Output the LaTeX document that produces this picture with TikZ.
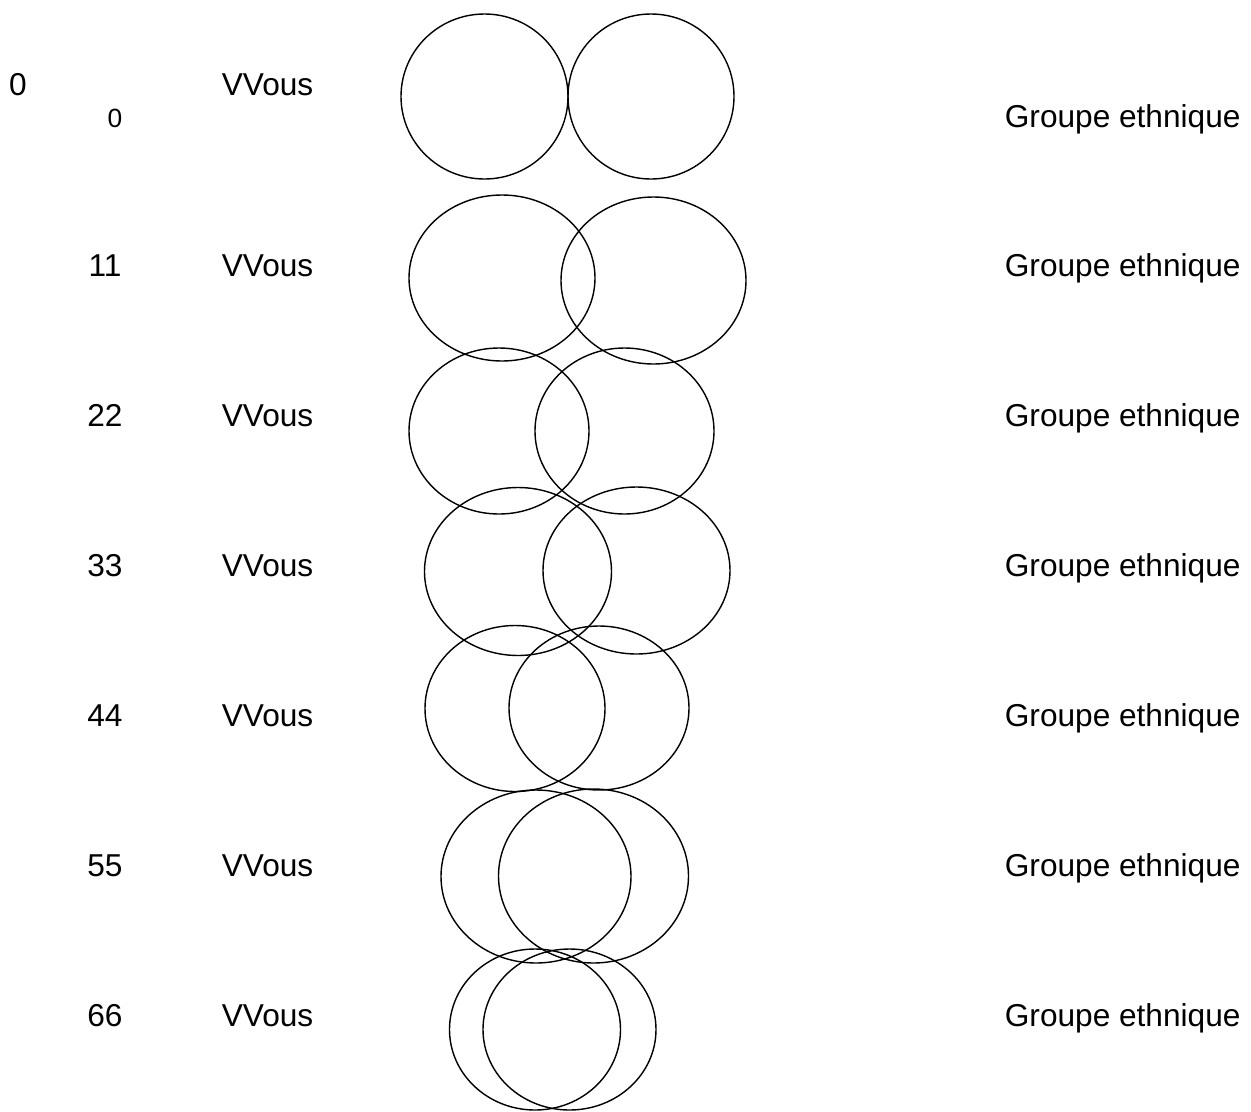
\documentclass[tikz,border=0pt]{standalone}
\usepackage{fontspec}
\setmainfont{Liberation Sans}
\usetikzlibrary{shapes.geometric}
\begin{document}
\begin{tikzpicture}[%
% common options for the texts:
lbl/.style = {rectangle, inner sep=0, anchor=base,
            font=\fontsize{18}{21}\selectfont},
% common options for the ellipses:
ring/.style = {ellipse, draw, line width=0.8pt, inner sep=0, anchor=center}]
\useasboundingbox (0,0) rectangle (25.02,-22.22);
\node[lbl] (N00) at (0.36,-1.90) {0};
\node[lbl,font=\fontsize{15}{17}\selectfont] (N0) at (2.30,-2.55) {0};
\node[lbl] (N1) at (2.10,-5.52) {11};
\node[lbl] (N2) at (2.10,-8.52) {22};
\node[lbl] (N3) at (2.10,-11.52) {33};
\node[lbl] (N4) at (2.10,-14.52) {44};
\node[lbl] (N5) at (2.10,-17.52) {55};
\node[lbl] (N6) at (2.10,-20.52) {66};
\node[lbl,anchor=base west] (V0) at (4.43,-1.90) {VVous};
\node[lbl,anchor=base west] (V1) at (4.43,-5.52) {VVous};
\node[lbl,anchor=base west] (V2) at (4.43,-8.52) {VVous};
\node[lbl,anchor=base west] (V3) at (4.43,-11.52) {VVous};
\node[lbl,anchor=base west] (V4) at (4.43,-14.52) {VVous};
\node[lbl,anchor=base west] (V5) at (4.43,-17.52) {VVous};
\node[lbl,anchor=base west] (V6) at (4.43,-20.52) {VVous};
\node[lbl,anchor=base west] (G0) at (20.09,-2.54) {Groupe ethnique};
\node[lbl,anchor=base west] (G1) at (20.09,-5.52) {Groupe ethnique};
\node[lbl,anchor=base west] (G2) at (20.09,-8.52) {Groupe ethnique};
\node[lbl,anchor=base west] (G3) at (20.09,-11.52) {Groupe ethnique};
\node[lbl,anchor=base west] (G4) at (20.09,-14.52) {Groupe ethnique};
\node[lbl,anchor=base west] (G5) at (20.09,-17.52) {Groupe ethnique};
\node[lbl,anchor=base west] (G6) at (20.09,-20.52) {Groupe ethnique};
\node[ring,minimum width=3.34cm,minimum height=3.30cm] (L0) at (9.69,-1.93) {};
\node[ring,minimum width=3.32cm,minimum height=3.30cm] (R0) at (13.02,-1.93) {};
\node[ring,minimum width=3.72cm,minimum height=3.32cm] (L1) at (10.04,-5.56) {};
\node[ring,minimum width=3.70cm,minimum height=3.34cm] (R1) at (13.07,-5.61) {};
\node[ring,minimum width=3.60cm,minimum height=3.32cm] (L2) at (9.98,-8.62) {};
\node[ring,minimum width=3.58cm,minimum height=3.32cm] (R2) at (12.49,-8.62) {};
\node[ring,minimum width=3.74cm,minimum height=3.36cm] (L3) at (10.36,-11.43) {};
\node[ring,minimum width=3.74cm,minimum height=3.34cm] (R3) at (12.73,-11.41) {};
\node[ring,minimum width=3.60cm,minimum height=3.32cm] (L4) at (10.30,-14.17) {};
\node[ring,minimum width=3.60cm,minimum height=3.28cm] (R4) at (11.98,-14.16) {};
\node[ring,minimum width=3.80cm,minimum height=3.46cm] (L5) at (10.72,-17.53) {};
\node[ring,minimum width=3.80cm,minimum height=3.48cm] (R5) at (11.87,-17.52) {};
\node[ring,minimum width=3.42cm,minimum height=3.22cm] (L6) at (10.70,-20.59) {};
\node[ring,minimum width=3.46cm,minimum height=3.22cm] (R6) at (11.39,-20.59) {};
\end{tikzpicture}
\end{document}
